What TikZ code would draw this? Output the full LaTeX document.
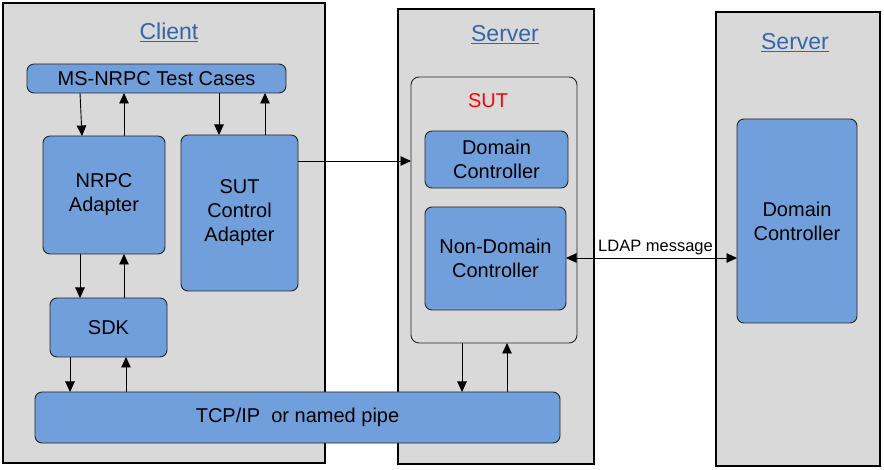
\documentclass[tikz,border=0pt]{standalone}
\usepackage{fontspec}
\setmainfont{Liberation Sans}
\usetikzlibrary{arrows.meta}
\definecolor{panelgray}{RGB}{217,217,217}
\definecolor{boxblue}{RGB}{113,159,219}
\definecolor{titleblue}{RGB}{52,101,170}
\begin{document}
\begin{tikzpicture}[x=1pt,y=-1pt,
  panel/.style={draw=black,line width=1.2pt,fill=panelgray,inner sep=0pt,outer sep=0pt},
  blk/.style={draw=black!85,fill=boxblue,rounded corners=7pt,line width=0.9pt,align=center,
    font=\fontsize{20}{24}\selectfont,inner sep=0pt,outer sep=0pt},
  ttl/.style={text=titleblue,font=\fontsize{23}{26}\selectfont,inner sep=0pt},
  arr/.style={-{Triangle[length=10.5pt,width=9.5pt]},line width=0.9pt},
  darr/.style={{Triangle[length=10.5pt,width=9.5pt]}-{Triangle[length=10.5pt,width=9.5pt]},line width=0.9pt}]
\useasboundingbox (0,0) rectangle (884,470);
% panels
\node[panel,minimum width=322pt,minimum height=460pt] (client) at (164,233) {};
\node[panel,minimum width=196pt,minimum height=455pt] (srv1) at (496,236.5) {};
\node[panel,minimum width=164pt,minimum height=454pt] (srv2) at (798,239) {};
\node[ttl] (tclient) at (169,32) {\underline{Client}};
\node[ttl] (tsrv1) at (505,35) {\underline{Server}};
\node[ttl] (tsrv2) at (795,43) {\underline{Server}};
% client boxes
\node[blk,minimum width=259pt,minimum height=29pt] (tc) at (156.5,78.5) {MS-NRPC Test Cases};
\node[blk,minimum width=122pt,minimum height=118pt] (nrpc) at (104,195) {NRPC\\Adapter};
\node[blk,minimum width=117pt,minimum height=156pt] (suta) at (239.5,213) {SUT\\Control\\Adapter};
\node[blk,minimum width=117pt,minimum height=59pt] (sdk) at (108.5,327.5) {SDK};
\node[blk,minimum width=525pt,minimum height=51pt] (tcp) at (297.5,417.5) {TCP/IP\ \ or named pipe};
% SUT
\node[draw=black!85,fill=panelgray,rounded corners=8pt,line width=0.9pt,minimum width=166pt,minimum height=266pt,inner sep=0pt,outer sep=0pt] (sut) at (494,210) {};
\node[text=red,font=\fontsize{20}{24}\selectfont,inner sep=0pt] (sutl) at (488,101) {SUT};
\node[blk,minimum width=143pt,minimum height=57pt] (dc) at (496.5,159.5) {Domain\\Controller};
\node[blk,minimum width=141pt,minimum height=103pt] (ndc) at (495.5,258.5) {Non-Domain\\Controller};
\node[blk,minimum width=120pt,minimum height=204pt] (dc2) at (797,221) {Domain\\Controller};
% arrows client
\draw[arr] (tc.south -| 80,0) -- (nrpc.north -| 82,0);
\draw[arr] (nrpc.north -| 124,0) -- (tc.south -| 124,0);
\draw[arr] (tc.south -| 219,0) -- (suta.north -| 219,0);
\draw[arr] (suta.north -| 265,0) -- (tc.south -| 265,0);
\draw[arr] (nrpc.south -| 80,0) -- (sdk.north -| 80,0);
\draw[arr] (sdk.north -| 124,0) -- (nrpc.south -| 124,0);
\draw[arr] (sdk.south -| 70,0) -- (tcp.north -| 70,0);
\draw[arr] (tcp.north -| 126,0) -- (sdk.south -| 126,0);
\draw[arr] (suta.east |- 0,161) -- (sut.west |- 0,161);
\draw[arr] (sut.south -| 462,0) -- (tcp.north -| 462,0);
\draw[arr] (tcp.north -| 507,0) -- (sut.south -| 507,0);
\draw[darr] (ndc.east |- 0,258) -- node[above=3pt,xshift=4pt,font=\fontsize{16.5}{18}\selectfont,inner sep=0pt] {LDAP message} (dc2.west |- 0,258);
\end{tikzpicture}
\end{document}
